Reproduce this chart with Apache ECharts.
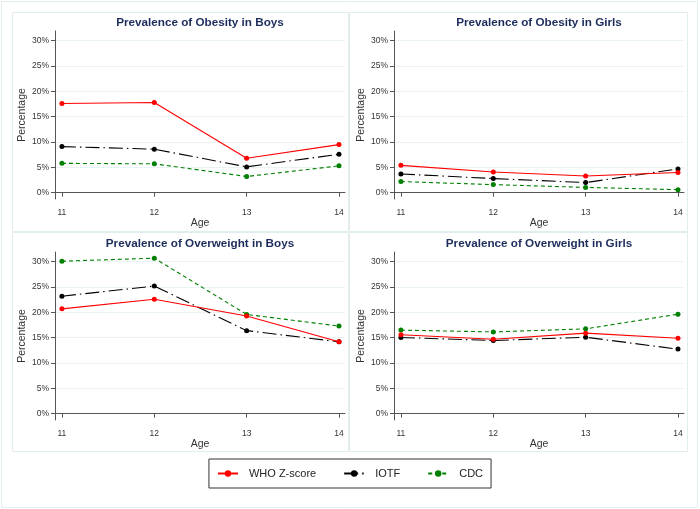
<!DOCTYPE html>
<html>
<head>
<meta charset="utf-8">
<script src="https://cdn.jsdelivr.net/npm/echarts@6/dist/echarts.min.js"></script>
<style>
  html, body { margin: 0; padding: 0; background: #fff; }
  #chart { width: 700px; height: 509px; }
</style>
</head>
<body>
<div id="chart"></div>
<script>
// ages on the x axis
var ages = [11, 12, 13, 14]
var yTicks = [0, 5, 10, 15, 20, 25, 30]

// Prevalence of Obesity in Boys
var obBoysWHO = [17.6, 17.8, 6.8, 9.5]
var obBoysIOTF = [9.1, 8.6, 5.1, 7.6]
var obBoysCDC = [5.8, 5.7, 3.2, 5.3]

// Prevalence of Obesity in Girls
var obGirlsWHO = [5.4, 4.1, 3.3, 4.0]
var obGirlsIOTF = [3.7, 2.8, 2.0, 4.7]
var obGirlsCDC = [2.2, 1.6, 1.05, 0.6]

// Prevalence of Overweight in Boys
var owBoysWHO = [20.7, 22.6, 19.3, 14.2]
var owBoysIOTF = [23.2, 25.2, 16.4, 14.2]
var owBoysCDC = [30.1, 30.7, 19.6, 17.3]

// Prevalence of Overweight in Girls
var owGirlsWHO = [15.6, 14.7, 15.9, 14.9]
var owGirlsIOTF = [15.05, 14.45, 15.1, 12.75]
var owGirlsCDC = [16.5, 16.15, 16.75, 19.65]

var panels = [
  { title: 'Prevalence of Obesity in Boys', who: obBoysWHO, iotf: obBoysIOTF, cdc: obBoysCDC },
  { title: 'Prevalence of Obesity in Girls', who: obGirlsWHO, iotf: obGirlsIOTF, cdc: obGirlsCDC },
  { title: 'Prevalence of Overweight in Boys', who: owBoysWHO, iotf: owBoysIOTF, cdc: owBoysCDC },
  { title: 'Prevalence of Overweight in Girls', who: owGirlsWHO, iotf: owGirlsIOTF, cdc: owGirlsCDC }
]

var gridPos = [
  { left: 55, top: 31 },
  { left: 394, top: 31 },
  { left: 55, top: 252 },
  { left: 394, top: 252 }
]
var gridW = 290
var gridH = 168

var font = 'Liberation Sans, Arial, sans-serif'
var axisColor = '#555'

function pairs(vals) {
  return ages.map(function(a, i) { return [a, vals[i]] })
}

var titles = []
var grids = []
var xAxes = []
var yAxes = []
var series = []

panels.forEach(function(p, i) {
  var g = gridPos[i]
  grids.push({ left: g.left, top: g.top, width: gridW, height: gridH })
  titles.push({
    text: p.title,
    left: g.left + gridW / 2,
    top: g.top - 14,
    textAlign: 'center',
    padding: 0,
    textStyle: { fontFamily: font, fontSize: 11.7, fontWeight: 'bold', color: '#1c2c5c' }
  })
  xAxes.push({
    type: 'value',
    gridIndex: i,
    min: 10.925,
    max: 14.065,
    name: 'Age',
    nameLocation: 'middle',
    nameGap: 16,
    nameTextStyle: { fontFamily: font, fontSize: 10.5, color: '#333' },
    axisLine: { show: true, lineStyle: { color: axisColor, width: 1 } },
    axisTick: { show: true, length: 4, customValues: ages, lineStyle: { color: axisColor } },
    axisLabel: { customValues: ages, margin: 9, fontFamily: font, fontSize: 8.5, color: '#333' },
    splitLine: { show: false }
  })
  yAxes.push({
    type: 'value',
    gridIndex: i,
    min: -1.24,
    max: 31.92,
    name: 'Percentage',
    nameLocation: 'middle',
    nameGap: 26,
    nameTextStyle: { fontFamily: font, fontSize: 10.5, color: '#333' },
    axisLine: { show: true, lineStyle: { color: axisColor, width: 1 } },
    axisTick: { show: true, length: 4, customValues: yTicks, lineStyle: { color: axisColor } },
    axisLabel: {
      customValues: yTicks,
      margin: 6,
      fontFamily: font,
      fontSize: 8.5,
      color: '#333',
      formatter: function(v) { return v + '%' }
    },
    splitLine: { show: true, lineStyle: { color: '#eaf2f3', width: 1 } }
  })
  series.push({
    name: 'WHO Z-score', type: 'line', xAxisIndex: i, yAxisIndex: i,
    data: pairs(p.who), symbol: 'circle', symbolSize: 5,
    itemStyle: { color: '#ff0000' },
    lineStyle: { color: '#ff0000', width: 1.1 },
    z: 3, animation: false
  })
  series.push({
    name: 'IOTF', type: 'line', xAxisIndex: i, yAxisIndex: i,
    data: pairs(p.iotf), symbol: 'circle', symbolSize: 5,
    itemStyle: { color: '#000' },
    lineStyle: { color: '#000', width: 1.1, type: [14, 4, 1.5, 4] },
    z: 2, animation: false
  })
  series.push({
    name: 'CDC', type: 'line', xAxisIndex: i, yAxisIndex: i,
    data: pairs(p.cdc), symbol: 'circle', symbolSize: 5,
    itemStyle: { color: '#008000' },
    lineStyle: { color: '#008000', width: 1.1, type: [4, 3] },
    z: 1, animation: false
  })
})

var frameColor = '#e2eded'
var chart = echarts.init(document.getElementById('chart'))
chart.setOption({
  backgroundColor: '#fff',
  animation: false,
  title: titles,
  grid: grids,
  xAxis: xAxes,
  yAxis: yAxes,
  legend: {
    data: ['WHO Z-score', 'IOTF', 'CDC'],
    left: 'center',
    top: 459,
    orient: 'horizontal',
    itemWidth: 20,
    itemHeight: 8,
    itemGap: 27,
    padding: [9, 8, 9, 8],
    borderColor: '#333',
    borderWidth: 1,
    textStyle: { fontFamily: font, fontSize: 11, color: '#222', padding: [0, 0, 0, 6] }
  },
  graphic: [
    { type: 'rect', shape: { x: 1.5, y: 1.5, width: 696, height: 506 }, style: { fill: null, stroke: frameColor, lineWidth: 1 }, silent: true },
    { type: 'rect', shape: { x: 12.5, y: 12.5, width: 336, height: 219 }, style: { fill: null, stroke: frameColor, lineWidth: 1 }, silent: true },
    { type: 'rect', shape: { x: 349.5, y: 12.5, width: 338, height: 219 }, style: { fill: null, stroke: frameColor, lineWidth: 1 }, silent: true },
    { type: 'rect', shape: { x: 12.5, y: 232.5, width: 336, height: 219 }, style: { fill: null, stroke: frameColor, lineWidth: 1 }, silent: true },
    { type: 'rect', shape: { x: 349.5, y: 232.5, width: 338, height: 219 }, style: { fill: null, stroke: frameColor, lineWidth: 1 }, silent: true }
  ],
  series: series
})
</script>
</body>
</html>
